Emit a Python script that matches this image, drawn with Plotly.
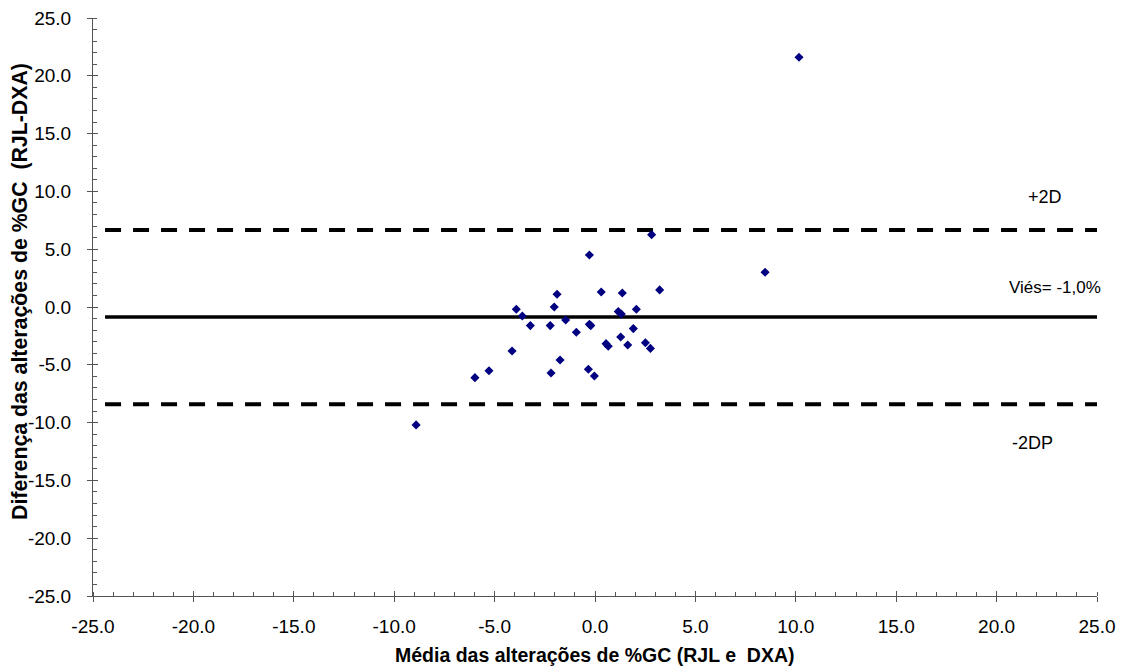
import plotly.graph_objects as go

# Data (Bland-Altman plot)
media = [-0.28, -1.89, 0.31, 1.36, 3.22, -3.92, -3.62, -2.03, -3.22, -2.23,
         -1.46, -0.93, -0.28, -0.21, 1.16, 1.31, 2.06, 1.91, 1.28, 0.55,
         0.66, 1.63, 2.51, 2.76, -4.13, -1.74, -5.28, -2.19, -0.33, -0.03,
         -5.98, -8.91, 2.82, 8.47, 10.16]
diferenca = [4.50, 1.10, 1.30, 1.21, 1.48, -0.20, -0.78, 0.00, -1.61, -1.61,
             -1.12, -2.19, -1.50, -1.61, -0.40, -0.61, -0.20, -1.87, -2.60, -3.17,
             -3.40, -3.29, -3.09, -3.58, -3.81, -4.58, -5.51, -5.71, -5.39, -5.97,
             -6.11, -10.20, 6.26, 3.00, 21.60]

vies = -0.86
lim_sup = 6.66
lim_inf = -8.42
linha_x = [-24.4, 25.0]

tick_vals = [-25, -20, -15, -10, -5, 0, 5, 10, 15, 20, 25]
tick_text = ["-25.0", "-20.0", "-15.0", "-10.0", "-5.0", "0.0",
             "5.0", "10.0", "15.0", "20.0", "25.0"]

FONT = "Liberation Sans, Arial, sans-serif"
AXC = "#555555"

fig = go.Figure()

fig.add_trace(go.Scatter(x=linha_x, y=[lim_sup, lim_sup], mode="lines",
                         line=dict(color="black", width=4, dash="16px,12px"),
                         hoverinfo="skip", showlegend=False))
fig.add_trace(go.Scatter(x=linha_x, y=[lim_inf, lim_inf], mode="lines",
                         line=dict(color="black", width=4, dash="16px,12px"),
                         hoverinfo="skip", showlegend=False))
fig.add_trace(go.Scatter(x=linha_x, y=[vies, vies], mode="lines",
                         line=dict(color="black", width=3.5),
                         hoverinfo="skip", showlegend=False))
fig.add_trace(go.Scatter(x=media, y=diferenca, mode="markers",
                         marker=dict(symbol="diamond", size=7, color="#000080"),
                         showlegend=False))

axis_common = dict(
    range=[-25, 25], tickvals=tick_vals, ticktext=tick_text,
    showgrid=False, zeroline=False, showline=True, linecolor=AXC, linewidth=1,
    ticks="outside", ticklen=5, tickcolor=AXC, tickwidth=1,
    tickfont=dict(family=FONT, size=19, color="black"),
    ticklabeloverflow="allow",
    minor=dict(dtick=1, ticks="inside", ticklen=4, tickcolor=AXC, tickwidth=1),
)

fig.update_layout(
    width=1121, height=668,
    margin=dict(l=93, r=24, t=18, b=72, autoexpand=False),
    paper_bgcolor="white", plot_bgcolor="white",
    font=dict(family=FONT, color="black"),
    xaxis=dict(**axis_common, ticklabelstandoff=8),
    yaxis=dict(**axis_common, ticklabelstandoff=12),
    xaxis2=dict(overlaying="x", matches="x", anchor="y", showgrid=False, zeroline=False,
                showline=False, ticks="inside", ticklen=5, tickcolor=AXC,
                tickvals=tick_vals, showticklabels=False),
    yaxis2=dict(overlaying="y", matches="y", anchor="x", showgrid=False, zeroline=False,
                showline=False, ticks="inside", ticklen=5, tickcolor=AXC,
                tickvals=tick_vals, showticklabels=False),
    showlegend=False,
)

# dummy trace to activate overlay axes
fig.add_trace(go.Scatter(x=[None], y=[None], xaxis="x2", yaxis="y2",
                         showlegend=False, hoverinfo="skip"))

fig.add_annotation(text="+2D", x=22.4, y=9.5, xref="x", yref="y", showarrow=False,
                   font=dict(family=FONT, size=18, color="black"))
fig.add_annotation(text="Viés= -1,0%", x=22.9, y=1.73, xref="x", yref="y", showarrow=False,
                   font=dict(family=FONT, size=17, color="black"))
fig.add_annotation(text="-2DP", x=21.8, y=-11.76, xref="x", yref="y", showarrow=False,
                   font=dict(family=FONT, size=18, color="black"))

fig.add_annotation(text="<b>Média das alterações de %GC (RJL e&nbsp; DXA)</b>",
                   x=0.5, y=-0.102, xref="paper", yref="paper", showarrow=False,
                   xanchor="center", yanchor="middle",
                   font=dict(family=FONT, size=19.5, color="black"))
fig.add_annotation(text="<b>Diferença das alterações de %GC&nbsp; (RJL-DXA)</b>",
                   x=-0.0727, y=0.526, xref="paper", yref="paper", showarrow=False,
                   xanchor="center", yanchor="middle", textangle=-90,
                   font=dict(family=FONT, size=21.3, color="black"))

fig.write_html(
    "out.html",
    config={"displayModeBar": False},
    post_script="document.body.style.margin='0';document.body.style.overflow='hidden';",
)
